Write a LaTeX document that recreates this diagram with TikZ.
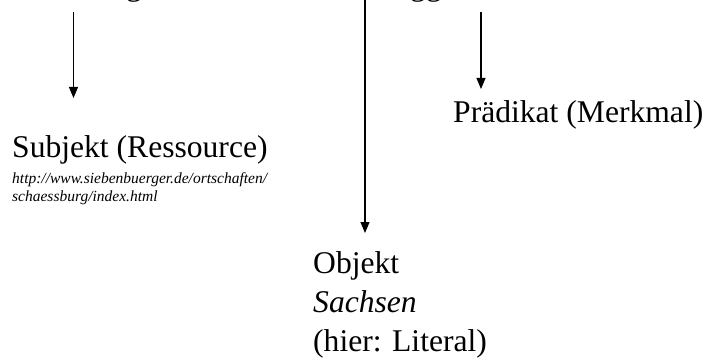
\documentclass[tikz,border=0pt]{standalone}
\usepackage{fontspec}
\setmainfont{Liberation Serif}
\usetikzlibrary{arrows.meta}
\begin{document}
\begin{tikzpicture}[x=1pt,y=-1pt,
  big/.style={font=\fontsize{31.6}{38}\selectfont, inner sep=0pt, anchor=base west},
  url/.style={font=\fontsize{15.5}{18}\selectfont\itshape, inner sep=0pt, anchor=base west},
  conn/.style={line width=1.2pt, -{Triangle[width=9pt,length=11pt]}}]
\useasboundingbox (0,0) rectangle (707,361);
\begin{scope}
\clip (0,0) rectangle (707,361);
\node[big] (t1) at (126,-4) {g};
\node[big] (t2) at (410,-4) {gg};
\end{scope}
\node[big] (subj) at (12,157) {Subjekt (Ressource)};
\node[url] (u1) at (12,183) {http://www.siebenbuerger.de/ortschaften/};
\node[url] (u2) at (12,201) {schaessburg/index.html};
\node[big] (pred) at (453,122) {Prädikat (Merkmal)};
\node[big] (obj) at (313,273) {Objekt};
\node[big, font=\fontsize{31.6}{38}\selectfont\itshape] (sach) at (313,312) {Sachsen};
\node[big] (lit) at (313,351) {(hier: Literal)};
\coordinate (s1) at (73.5,12);
\coordinate (e1) at (73.5,98);
\coordinate (s2) at (365,0);
\coordinate (e2) at (365,233);
\coordinate (s3) at (481,12);
\coordinate (e3) at (481,89);
\draw[conn] (s1) -- (e1);
\draw[conn] (s2) -- (e2);
\draw[conn] (s3) -- (e3);
\end{tikzpicture}
\end{document}
